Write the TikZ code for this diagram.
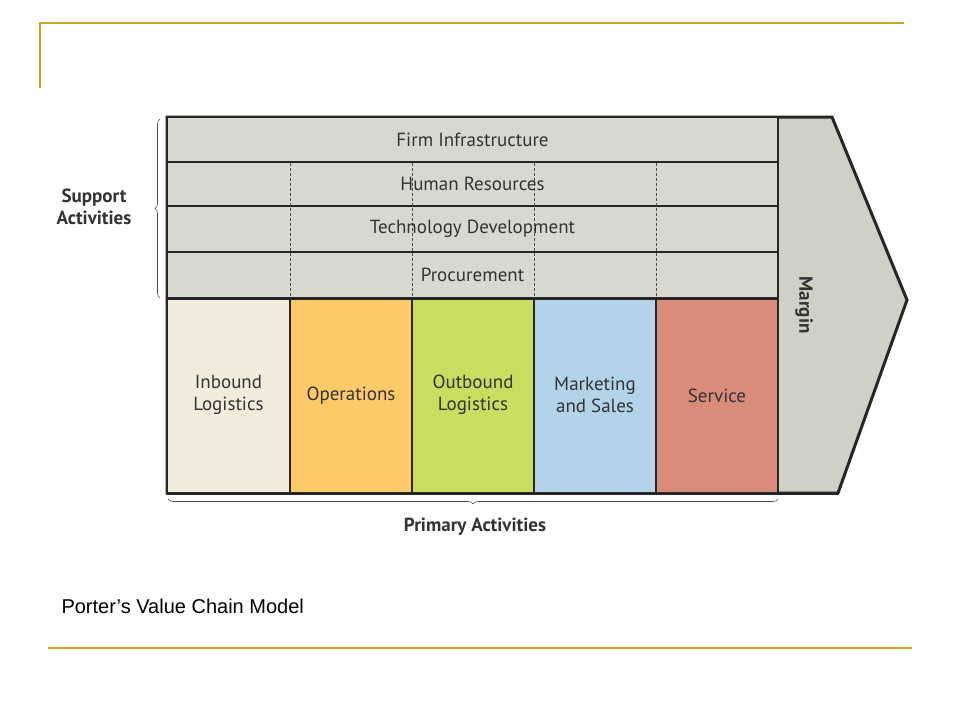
\documentclass[tikz,border=0pt]{standalone}
\usepackage{fontspec}
\setmainfont{PT Sans}
\newfontfamily\capfont{Liberation Sans}
\usetikzlibrary{decorations.pathreplacing}
\definecolor{gold}{HTML}{C8A42A}
\definecolor{supgray}{HTML}{D9D8D0}
\definecolor{margray}{HTML}{D0D0C6}
\definecolor{cin}{HTML}{F1ECDC}
\definecolor{cop}{HTML}{FDCA68}
\definecolor{cout}{HTML}{C9DD5E}
\definecolor{cmk}{HTML}{B3D4E8}
\definecolor{csv}{HTML}{D98C7A}
\begin{document}
\begin{tikzpicture}[x=1pt,y=-1pt,
  rowbox/.style={draw=black!85,line width=2.2pt,fill=supgray},
  colbox/.style={draw=black!85,line width=2.2pt},
  lbl/.style={font=\fontsize{19}{22}\selectfont,color=black!80,align=center},
  blbl/.style={font=\fontsize{19}{22}\selectfont\bfseries,color=black!80,align=center},
  dashline/.style={line width=0.5pt,dash pattern=on 3pt off 2pt,black!70},
  bracedeco/.style={decorate,decoration={brace,amplitude=5pt},line width=0.6pt,black!70}]
\useasboundingbox (0,0) rectangle (960,720);
% gold frame lines
\draw[gold,line width=1.5pt] (40,88) -- (40,23) -- (904,23);
\draw[gold,line width=1.5pt] (48,648) -- (912,648);
% margin arrow
\draw[fill=margray,draw=black!85,line width=3pt,line join=miter] (167,117) -- (832,117) -- (907,300) -- (838,493) -- (167,493) -- cycle;
% support rows
\draw[rowbox] (167,117) rectangle (778,162);
\draw[rowbox] (167,162) rectangle (778,206);
\draw[rowbox] (167,206) rectangle (778,252);
\draw[rowbox] (167,252) rectangle (778,298);
\foreach \x in {290,412,534,656} \draw[dashline] (\x,163) -- (\x,297);
\node[lbl] (fi) at (472.5,140) {Firm Infrastructure};
\node[lbl] (hr) at (472.5,184) {Human Resources};
\node[lbl] (td) at (472.5,229) {Technology Development};
\node[lbl] (pr) at (472.5,275) {Procurement};
% primary columns
\draw[colbox,fill=cin] (167,298) rectangle (290,493);
\draw[colbox,fill=cop] (290,298) rectangle (412,493);
\draw[colbox,fill=cout] (412,298) rectangle (534,493);
\draw[colbox,fill=cmk] (534,298) rectangle (656,493);
\draw[colbox,fill=csv] (656,298) rectangle (778,493);
\draw[black!85,line width=3pt] (167,298) -- (778,298);
\draw[black!85,line width=3pt] (167,493) -- (838,493);
\node[lbl] (ib) at (228.5,395) {Inbound\\Logistics};
\node[lbl] (op) at (351,396) {Operations};
\node[lbl] (ob) at (473,395) {Outbound\\Logistics};
\node[lbl] (mk) at (595,395) {Marketing\\and Sales};
\node[lbl] (sv) at (717,396) {Service};
\node[blbl,rotate=-90] (mg) at (804,305) {Margin};
% braces
\draw[bracedeco] (160,298) -- (160,119);
\draw[bracedeco] (778,499) -- (168,499);
\node[blbl,align=center] (sa) at (94,207) {Support\\Activities};
\node[blbl] (pa) at (475,527) {Primary Activities};
% caption
\node[anchor=west,font=\capfont\fontsize{20}{24}\selectfont] (cap) at (58,606) {Porter’s Value Chain Model};
\end{tikzpicture}
\end{document}
